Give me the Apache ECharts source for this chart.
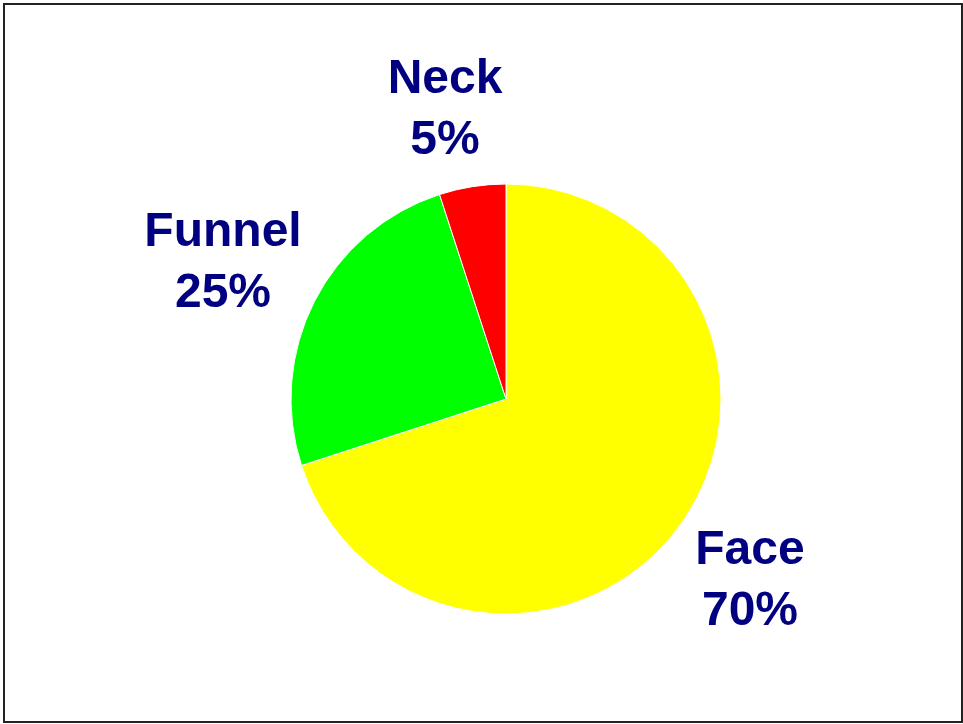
<!DOCTYPE html>
<html>
<head>
<meta charset="utf-8">
<script src="https://cdn.jsdelivr.net/npm/echarts@6/dist/echarts.min.js"></script>
<style>
  html, body { margin: 0; padding: 0; background: #fff; }
  #frame { position: absolute; left: 3px; top: 3px; width: 956px; height: 716px; border: 2px solid #222; background: #fff; }
  #chart { width: 963px; height: 724px; position: absolute; left: 0; top: 0; }
</style>
</head>
<body>
<div id="frame"></div>
<div id="chart"></div>
<script>
// Share of each region
const categories = ['Face', 'Funnel', 'Neck'];
const shares = [70, 25, 5];
const sliceColors = ['#ffff00', '#00ff00', '#ff0000'];

// Where each label block is centred
const labelSpots = {
  Face:   [750, 581],
  Funnel: [223, 263],
  Neck:   [445, 110]
};

const chart = echarts.init(document.getElementById('chart'), null, { renderer: 'canvas' });

chart.setOption({
  backgroundColor: 'transparent',
  animation: false,
  series: [{
    type: 'pie',
    center: [506, 399],
    radius: 215,
    startAngle: 90,
    clockwise: true,
    data: categories.map((c, i) => ({
      name: c,
      value: shares[i],
      itemStyle: { color: sliceColors[i] }
    })),
    itemStyle: { borderColor: '#ffffff', borderWidth: 1 },
    label: {
      show: true,
      position: 'outside',
      formatter: '{b}\n{d}%',
      color: '#000080',
      fontFamily: 'Liberation Sans, Arial, sans-serif',
      fontWeight: 'bold',
      fontSize: 48,
      lineHeight: 61,
      align: 'center'
    },
    labelLine: { show: false },
    labelLayout: function (p) {
      const spot = labelSpots[categories[p.dataIndex]];
      return { x: spot[0], y: spot[1], align: 'center', verticalAlign: 'middle' };
    },
    emphasis: { disabled: true }
  }]
});
</script>
</body>
</html>
